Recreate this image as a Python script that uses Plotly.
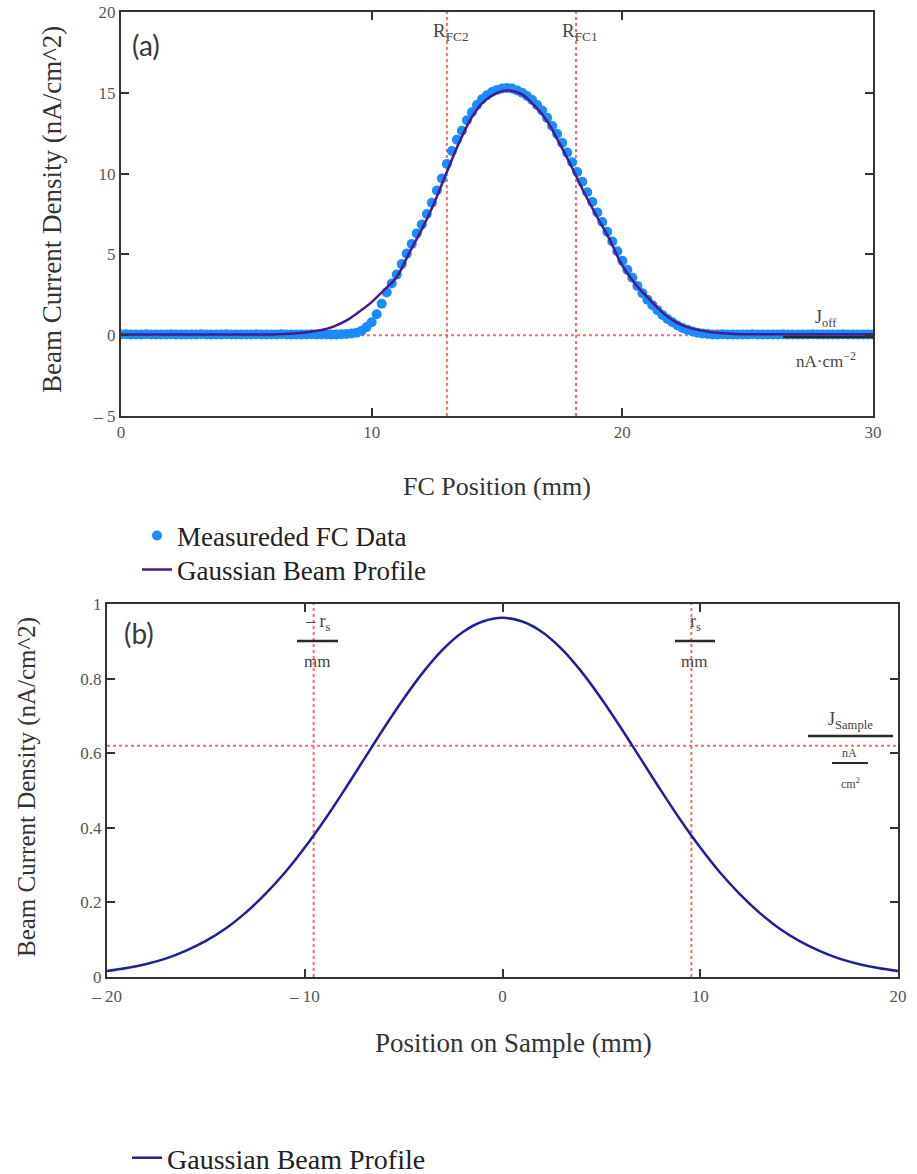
import plotly.graph_objects as go

# ---------------- data ----------------
# panel (a): measured Faraday-cup profile (mm, nA/cm^2)
x_fc = [
    0.0, 0.2, 0.4, 0.6, 0.8, 1.0, 1.2, 1.4, 1.6, 1.8,
    2.0, 2.2, 2.4, 2.6, 2.8, 3.0, 3.2, 3.4, 3.6, 3.8,
    4.0, 4.2, 4.4, 4.6, 4.8, 5.0, 5.2, 5.4, 5.6, 5.8,
    6.0, 6.2, 6.4, 6.6, 6.8, 7.0, 7.2, 7.4, 7.6, 7.8,
    8.0, 8.2, 8.4, 8.6, 8.8, 9.0, 9.2, 9.4, 9.6, 9.8,
    10.0, 10.2, 10.4, 10.6, 10.8, 11.0, 11.2, 11.4, 11.6, 11.8,
    12.0, 12.2, 12.4, 12.6, 12.8, 13.0, 13.2, 13.4, 13.6, 13.8,
    14.0, 14.2, 14.4, 14.6, 14.8, 15.0, 15.2, 15.4, 15.6, 15.8,
    16.0, 16.2, 16.4, 16.6, 16.8, 17.0, 17.2, 17.4, 17.6, 17.8,
    18.0, 18.2, 18.4, 18.6, 18.8, 19.0, 19.2, 19.4, 19.6, 19.8,
    20.0, 20.2, 20.4, 20.6, 20.8, 21.0, 21.2, 21.4, 21.6, 21.8,
    22.0, 22.2, 22.4, 22.6, 22.8, 23.0, 23.2, 23.4, 23.6, 23.8,
    24.0, 24.2, 24.4, 24.6, 24.8, 25.0, 25.2, 25.4, 25.6, 25.8,
    26.0, 26.2, 26.4, 26.6, 26.8, 27.0, 27.2, 27.4, 27.6, 27.8,
    28.0, 28.2, 28.4, 28.6, 28.8, 29.0, 29.2, 29.4, 29.6, 29.8,
    30.0,
]
y_fc = [
    0.05, 0.06, 0.05, 0.04, 0.05, 0.06, 0.05, 0.05, 0.04, 0.05,
    0.06, 0.05, 0.05, 0.04, 0.05, 0.05, 0.06, 0.05, 0.04, 0.05,
    0.05, 0.06, 0.05, 0.05, 0.04, 0.05, 0.05, 0.06, 0.05, 0.04,
    0.05, 0.05, 0.06, 0.05, 0.05, 0.04, 0.05, 0.05, 0.06, 0.05,
    0.05, 0.04, 0.05, 0.05, 0.06, 0.07, 0.10, 0.15, 0.28, 0.50,
    0.80, 1.30, 1.95, 2.65, 3.20, 3.75, 4.40, 5.05, 5.65, 6.30,
    6.85, 7.50, 8.20, 8.95, 9.70, 10.60, 11.40, 12.10, 12.65, 13.30,
    13.80, 14.25, 14.60, 14.85, 15.05, 15.18, 15.27, 15.30, 15.27, 15.15,
    15.00, 14.80, 14.55, 14.25, 13.90, 13.45, 12.95, 12.45, 11.90, 11.30,
    10.70, 10.10, 9.50, 8.85, 8.25, 7.60, 7.00, 6.40, 5.80, 5.20,
    4.60, 4.05, 3.55, 3.05, 2.60, 2.20, 1.85, 1.55, 1.25, 1.00,
    0.80, 0.60, 0.45, 0.33, 0.23, 0.15, 0.10, 0.07, 0.05, 0.05,
    0.06, 0.05, 0.05, 0.04, 0.05, 0.05, 0.06, 0.05, 0.05, 0.04,
    0.05, 0.05, 0.06, 0.05, 0.05, 0.04, 0.05, 0.05, 0.06, 0.05,
    0.05, 0.04, 0.05, 0.05, 0.06, 0.05, 0.05, 0.04, 0.05, 0.05,
    0.05,
]

# panel (a): Gaussian beam profile fit
x_fit = [
    0.0, 0.5, 1.0, 1.5, 2.0, 2.5, 3.0, 3.5, 4.0, 4.5,
    5.0, 5.5, 6.0, 6.5, 7.0, 7.5, 8.0, 8.5, 9.0, 9.5,
    10.0, 10.5, 11.0, 11.5, 12.0, 12.5, 13.0, 13.5, 14.0, 14.5,
    15.0, 15.5, 16.0, 16.5, 17.0, 17.5, 18.0, 18.5, 19.0, 19.5,
    20.0, 20.5, 21.0, 21.5, 22.0, 22.5, 23.0, 23.5, 24.0, 24.5,
    25.0, 25.5, 26.0, 26.5, 27.0, 27.5, 28.0, 28.5, 29.0, 29.5,
    30.0,
]
y_fit = [
    0.05, 0.05, 0.05, 0.05, 0.05, 0.05, 0.05, 0.05, 0.05, 0.05,
    0.05, 0.05, 0.05, 0.07, 0.12, 0.20, 0.32, 0.55, 0.92, 1.45,
    2.05, 2.80, 3.60, 5.10, 6.55, 8.20, 10.10, 11.95, 13.50, 14.50,
    15.00, 15.15, 14.90, 14.20, 13.25, 11.85, 10.35, 8.75, 7.30, 5.90,
    4.30, 3.20, 2.35, 1.55, 0.93, 0.55, 0.33, 0.20, 0.12, 0.08,
    0.06, 0.06, 0.06, 0.06, 0.06, 0.06, 0.06, 0.06, 0.06, 0.06,
    0.06,
]

# panel (b): Gaussian beam profile on sample
x_b = [-20, -19, -18, -17, -16, -15, -14, -13, -12, -11, -10,
       -9, -8, -7, -6, -5, -4, -3, -2, -1, 0,
       1, 2, 3, 4, 5, 6, 7, 8, 9, 10,
       11, 12, 13, 14, 15, 16, 17, 18, 19, 20]
y_b = [0.016, 0.024, 0.035, 0.050, 0.071, 0.097, 0.130, 0.172, 0.222, 0.280, 0.347,
       0.421, 0.501, 0.584, 0.667, 0.746, 0.818, 0.879, 0.925, 0.953, 0.963,
       0.953, 0.925, 0.879, 0.818, 0.746, 0.667, 0.584, 0.501, 0.421, 0.347,
       0.280, 0.222, 0.172, 0.130, 0.097, 0.071, 0.050, 0.035, 0.024, 0.016]

# reference markers
R_FC2 = 13.0
R_FC1 = 18.15
J_off = 0.0
r_s = 9.55
J_sample = 0.62

# tick labels
xa_ticks = [0, 10, 20, 30]
xa_text = ["0", "10", "20", "30"]
ya_ticks = [-5, 0, 5, 10, 15, 20]
ya_text = ["\u2013 5", "0", "5", "10", "15", "20"]
xb_ticks = [-20, -10, 0, 10, 20]
xb_text = ["\u2013 20", "\u2013 10", "0", "10", "20"]
yb_ticks = [0, 0.2, 0.4, 0.6, 0.8, 1.0]
yb_text = ["0", "0.2", "0.4", "0.6", "0.8", "1"]

# ---------------- figure ----------------
W, H = 917, 1174


def px(x):
    return x / W


def py(y):
    return 1 - y / H


SERIF = "Liberation Serif"
fig = go.Figure()

fig.add_trace(go.Scatter(
    x=x_fc, y=y_fc, mode="markers", name="Measureded FC Data",
    marker=dict(color="#1a8cff", size=10, line=dict(width=0)),
    xaxis="x", yaxis="y", legend="legend"))
fig.add_trace(go.Scatter(
    x=x_fit, y=y_fit, mode="lines", name="Gaussian Beam Profile",
    line=dict(color="#4a1a8a", width=2.5, shape="spline"),
    xaxis="x", yaxis="y", legend="legend3"))
fig.add_trace(go.Scatter(
    x=x_b, y=y_b, mode="lines", name="Gaussian Beam Profile",
    line=dict(color="#1f1f9a", width=2.5, shape="spline"),
    xaxis="x2", yaxis="y2", legend="legend2"))

RED = "rgba(255,90,90,0.9)"
shapes = []
for xv in (R_FC2, R_FC1):
    shapes.append(dict(type="line", xref="x", yref="y domain", x0=xv, x1=xv, y0=0, y1=1,
                       line=dict(color=RED, width=2, dash="dot"), layer="below"))
shapes.append(dict(type="line", xref="x domain", yref="y", x0=0, x1=1, y0=J_off, y1=J_off,
                   line=dict(color=RED, width=2, dash="dot"), layer="below"))
for xv in (-r_s, r_s):
    shapes.append(dict(type="line", xref="x2", yref="y2 domain", x0=xv, x1=xv, y0=0, y1=1,
                       line=dict(color=RED, width=2, dash="dot"), layer="below"))
shapes.append(dict(type="line", xref="x2 domain", yref="y2", x0=0, x1=1, y0=J_sample, y1=J_sample,
                   line=dict(color=RED, width=2, dash="dot"), layer="below"))

# fraction bars of the Mathcad-style labels (page pixel positions)
bars = [(783, 873, 337, 2.5), (297, 338, 641, 2.5), (675, 715, 641, 2.5),
        (808, 893, 736, 2.5), (832, 868, 763, 2)]
for x0, x1, yy, w in bars:
    shapes.append(dict(type="line", xref="paper", yref="paper", x0=px(x0), x1=px(x1),
                       y0=py(yy), y1=py(yy), line=dict(color="#2a2a2a", width=w)))

TXT = "#333333"
annos = []


def add_text(text, x, y, size, family=SERIF, color=TXT, angle=0):
    annos.append(dict(text=text, x=px(x), y=py(y), xref="paper", yref="paper",
                      xanchor="center", yanchor="middle", showarrow=False, textangle=angle,
                      font=dict(family=family, size=size, color=color)))


add_text("Beam Current Density (nA/cm^2)", 52, 210, 27, angle=-90)
add_text("FC Position (mm)", 497, 487, 26)
add_text("Beam Current Density (nA/cm^2)", 27, 787, 25, angle=-90)
add_text("Position on Sample (mm)", 513, 1043, 27)
add_text("(a)", 146, 45, 28, family="Lato", color="#3a3a3a")
add_text("(b)", 139, 633, 28, family="Lato", color="#3a3a3a")
add_text("R<sub>FC2</sub>", 451, 32, 19, color="#444")
add_text("R<sub>FC1</sub>", 580, 32, 19, color="#444")
add_text("J<sub>off</sub>", 826, 318, 18, color="#444")
add_text("nA\u00b7cm<sup>\u22122</sup>", 826, 360, 17, color="#444")
add_text("\u2013 r<sub>s</sub>", 318, 622, 18, color="#444")
add_text("mm", 317, 661, 17, color="#444")
add_text("r<sub>s</sub>", 695, 622, 18, color="#444")
add_text("mm", 694, 661, 17, color="#444")
add_text("J<sub>Sample</sub>", 850, 720, 18, color="#444")
add_text("nA", 849, 753, 12, color="#444")
add_text("cm<sup>2</sup>", 850, 783, 12, color="#444")

axis_common = dict(showline=True, linecolor="#333", linewidth=2, mirror="ticks",
                   ticks="inside", ticklen=8, tickwidth=2, tickcolor="#333",
                   showgrid=False, zeroline=False, automargin=False,
                   ticklabeloverflow="allow",
                   tickfont=dict(family=SERIF, size=17, color="#555"))


def legend_at(x_text, y_center, size):
    return dict(x=px(x_text - 40), y=py(y_center), xanchor="left", yanchor="middle",
                bgcolor="rgba(0,0,0,0)", font=dict(family=SERIF, size=size, color="#222"))


fig.update_layout(
    width=W, height=H, margin=dict(l=0, r=0, t=0, b=0, autoexpand=False),
    paper_bgcolor="white", plot_bgcolor="white",
    xaxis=dict(domain=[px(121), px(873)], range=[0, 30], anchor="y",
               tickvals=xa_ticks, ticktext=xa_text, **axis_common),
    yaxis=dict(domain=[py(416), py(12)], range=[-5, 20], anchor="x",
               tickvals=ya_ticks, ticktext=ya_text, **axis_common),
    xaxis2=dict(domain=[px(107), px(898)], range=[-20, 20], anchor="y2",
                tickvals=xb_ticks, ticktext=xb_text, ticklabelstandoff=3, **axis_common),
    yaxis2=dict(domain=[py(977), py(604)], range=[0, 1], anchor="x2",
                tickvals=yb_ticks, ticktext=yb_text, **axis_common),
    legend=legend_at(177, 536, 27),
    legend3=legend_at(177, 570, 27),
    legend2=legend_at(167, 1158, 28),
    shapes=shapes, annotations=annos, showlegend=True,
)

# remove the default 8 px page margin so the 917x1174 figure fills the window
fig.write_html("out.html",
               config={"displayModeBar": False},
               post_script="document.body.style.margin='0';"
                           "document.body.style.overflow='hidden';")
